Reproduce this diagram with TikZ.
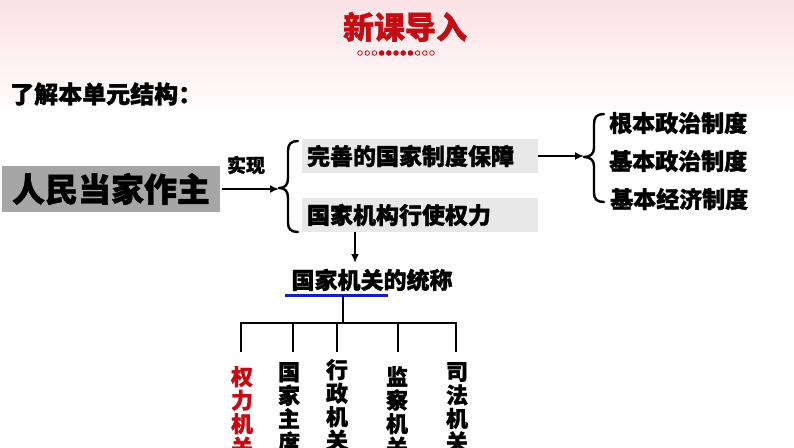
\documentclass[tikz,border=0pt]{standalone}
\usepackage{fontspec}
\setmainfont{Noto Sans CJK SC}[BoldFeatures={FakeBold=1.3}]
\usetikzlibrary{arrows.meta}
\definecolor{titlered}{RGB}{196,12,20}
\definecolor{pinkbg}{RGB}{250,226,229}
\definecolor{maingray}{RGB}{166,166,166}
\definecolor{lightgray}{RGB}{232,232,232}
\definecolor{ulblue}{RGB}{20,30,200}
\tikzset{
  every node/.style={inner sep=0pt, text=black},
  fs/.style={font=\bfseries\fontsize{#1}{#1}\selectfont},
  txt/.style={fs=23},
  mainbox/.style={fill=maingray, minimum width=218pt, minimum height=46pt, fs=33},
  graybox/.style={fill=lightgray, text width=226pt, inner xsep=5pt, minimum height=34pt, align=left, fs=23},
  vtxt/.style={align=center, font=\bfseries\fontsize{22}{23.5}\selectfont},
  arr/.style={line width=2.2pt, -{Latex[length=9pt,width=8pt]}},
  brace/.style={line width=2.4pt, line cap=round, line join=round},
  tree/.style={line width=1.8pt},
}
\begin{document}
\begin{tikzpicture}[x=1pt,y=-1pt]
\useasboundingbox (0,0) rectangle (794,447);
\fill[white] (0,0) rectangle (794,447);
\shade[top color=pinkbg, bottom color=white] (0,0) rectangle (794,120);
% title
\node[fs=31, text=titlered] (title) at (405,27) {新课导入};
\foreach \i in {0,1,2,8,9,10} \draw[titlered, line width=0.8pt] (360+7.2*\i,53) circle (2.3);
\foreach \i in {3,...,7} \fill[titlered] (360+7.2*\i,53) circle (2.8);
% heading
\node[fs=24, anchor=west] (head) at (10,94) {了解本单元结构：};
% main box
\node[mainbox] (main) at (111,189) {人民当家作主};
\node[fs=19] (shixian) at (246,165) {实现};
\coordinate (ltip) at (279,188);
\draw[arr] (main.east) ++(2,0) -- (main.east -| ltip);
% left brace
\draw[brace] (298,141) .. controls (291,141) and (288,144) .. (288,151) -- (288,178)
  .. controls (288,185) and (285,188) .. (ltip)
  .. controls (285,188) and (288,191) .. (288,198) -- (288,223)
  .. controls (288,229) and (291,232) .. (298,232);
% two boxes
\node[graybox] (b1) at (420,156) {完善的国家制度保障};
\node[graybox] (b2) at (420,215) {国家机构行使权力};
% right brace and items
\coordinate (rtip) at (584,157);
\draw[arr] (b1.east) -- (b1.east -| rtip);
\draw[brace] (604,114) .. controls (597,114) and (594,117) .. (594,124) -- (594,148)
  .. controls (594,154) and (590,157) .. (rtip)
  .. controls (590,157) and (594,160) .. (594,166) -- (594,193)
  .. controls (594,199) and (597,202) .. (604,202);
\node[txt, anchor=west] (r1) at (609,123) {根本政治制度};
\node[txt, anchor=west] (r2) at (609,161) {基本政治制度};
\node[txt, anchor=west] (r3) at (610,199) {基本经济制度};
% down arrow
\coordinate (dn) at (355,263);
\draw[arr] (b2.south -| dn) -- (dn);
\node[txt] (tong) at (372,280) {国家机关的统称};
\draw[ulblue, line width=3pt] (285,295) -- (388,295);
% tree
\coordinate (ul) at (343,295);
\coordinate (hub) at (343,323);
\draw[tree] (ul) -- (hub);
\draw[tree, line cap=rect] (241,323) -- (456,323);
\foreach \x in {241,293,337,398,456} \draw[tree] (\x,323) -- (\x,352);
\node[vtxt, anchor=north, text=titlered] (c1) at (242,366) {权\\力\\机\\关};
\node[vtxt, anchor=north] (c2) at (289,362) {国\\家\\主\\席};
\node[vtxt, anchor=north] (c3) at (337,359) {行\\政\\机\\关};
\node[vtxt, anchor=north] (c4) at (397,366) {监\\察\\机\\关};
\node[vtxt, anchor=north] (c5) at (457,362) {司\\法\\机\\关};
\end{tikzpicture}
\end{document}
